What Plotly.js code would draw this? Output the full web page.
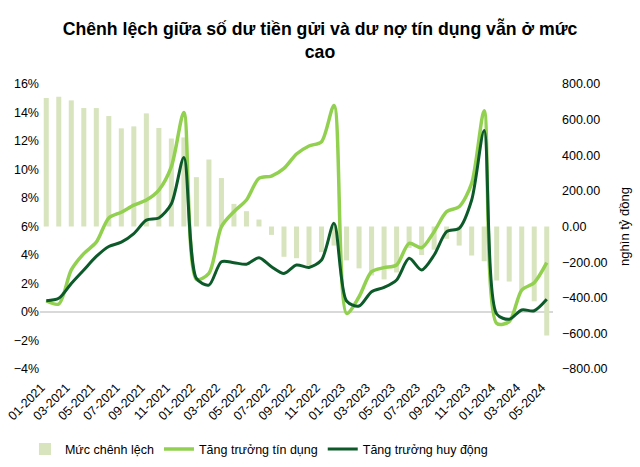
<!DOCTYPE html>
<html>
<head>
<meta charset="utf-8">
<script src="https://cdn.plot.ly/plotly-3.0.1.min.js"></script>
<style>
  html, body { margin: 0; padding: 0; background: #fff; }
  #graphDiv { width: 640px; height: 467px; }
</style>
</head>
<body>
<div id="graphDiv"></div>
<script>
  // tháng 01-2021 .. 05-2024
  var months = [
    '01-2021','02-2021','03-2021','04-2021','05-2021','06-2021','07-2021','08-2021','09-2021','10-2021','11-2021','12-2021',
    '01-2022','02-2022','03-2022','04-2022','05-2022','06-2022','07-2022','08-2022','09-2022','10-2022','11-2022','12-2022',
    '01-2023','02-2023','03-2023','04-2023','05-2023','06-2023','07-2023','08-2023','09-2023','10-2023','11-2023','12-2023',
    '01-2024','02-2024','03-2024','04-2024','05-2024'
  ];
  var tickMonths = months.filter(function (m, i) { return i % 2 === 0; });

  // Mức chênh lệch (nghìn tỷ đồng)
  var gap = [721, 729, 708, 665, 665, 620, 551, 562, 635, 553, 494, 500,
             277, 376, 272, 127, 86, 39, -47, -170, -178, -220, -144, -107,
             -190, -235, -275, -297, -258, -120, -160, -130, -69, -107, -163, -195,
             -303, -309, -360, -420, -612];

  // Tăng trưởng tín dụng (%)
  var credit = [0.79, 0.56, 2.95, 4.1, 4.9, 6.6, 7.0, 7.5, 7.86, 8.56, 10.2, 14.0,
                2.29, 2.71, 5.99, 7.04, 7.86, 9.38, 9.54, 10.08, 11.09, 11.65, 11.95, 14.5,
                -0.1, 1.07, 2.83, 3.11, 3.3, 4.82, 4.51, 5.64, 7.04, 7.39, 9.03, 14.13,
                -0.8, -0.68, 1.54, 2.06, 3.46];

  // Tăng trưởng huy động (%)
  var deposit = [0.79, 0.96, 2.0, 2.95, 3.9, 4.6, 4.9, 5.5, 6.45, 6.6, 7.6, 10.85,
                 2.36, 1.89, 3.53, 3.46, 3.35, 3.81, 3.18, 2.71, 3.3, 3.13, 3.65, 6.22,
                 0.77, 0.42, 1.42, 1.73, 2.25, 3.77, 2.95, 4.0, 5.64, 5.87, 7.86, 12.73,
                 -0.14, -0.51, 0.14, 0.09, 0.89];

  var font = 'Liberation Sans, Arial, sans-serif';

  // cột chênh lệch - trục phải
  var gapBars = {
    x: months,
    y: gap,
    type: 'bar',
    name: 'Mức chênh lệch',
    yaxis: 'y',
    marker: { color: '#d7e4bd' },
    hoverinfo: 'x+y'
  };
  // tín dụng - trục trái
  var creditLine = {
    x: months,
    y: credit,
    type: 'scatter',
    mode: 'lines',
    name: 'Tăng trưởng tín dụng',
    yaxis: 'y2',
    line: { color: '#92d050', width: 3.5, shape: 'spline', smoothing: 0.8 }
  };
  // huy động - trục trái
  var depositLine = {
    x: months,
    y: deposit,
    type: 'scatter',
    mode: 'lines',
    name: 'Tăng trưởng huy động',
    yaxis: 'y2',
    line: { color: '#0c5a29', width: 3, shape: 'spline', smoothing: 0.8 }
  };

  var data = [gapBars, creditLine, depositLine];

  var layout = {
    width: 640,
    height: 467,
    paper_bgcolor: '#fff',
    plot_bgcolor: 'rgba(0,0,0,0)',
    font: { family: font, size: 12.5, color: '#000' },
    margin: { l: 40, r: 87, t: 84, b: 98 },
    bargap: 0.6,
    showlegend: true,
    title: {
      text: '<b>Chênh lệch giữa số dư tiền gửi và dư nợ tín dụng vẫn ở mức<br>cao</b>',
      font: { family: font, size: 17.7, color: '#000' },
      x: 0.5, xanchor: 'center',
      y: 0.925, yanchor: 'top', yref: 'container'
    },
    xaxis: {
      type: 'category',
      automargin: false,
      range: [-0.5, 40.5],
      tickvals: tickMonths,
      ticktext: tickMonths,
      tickangle: -45,
      showgrid: false,
      showline: false,
      ticks: '',
      ticklabelstandoff: 8,
      ticklabelshift: -5,
      tickfont: { family: font, size: 12.5 }
    },
    yaxis: {
      side: 'right',
      automargin: false,
      range: [-800, 800],
      dtick: 200,
      tickformat: '.2f',
      showgrid: false,
      zeroline: false,
      showline: false,
      ticks: '',
      ticklabelstandoff: 8,
      tickfont: { family: font, size: 12.5 },
      title: { text: 'nghìn tỷ đồng', font: { family: font, size: 13 }, standoff: 13 }
    },
    yaxis2: {
      overlaying: 'y',
      side: 'left',
      automargin: false,
      range: [-4, 16],
      dtick: 2,
      ticksuffix: '%',
      showgrid: false,
      zeroline: true,
      zerolinecolor: '#d9d9d9',
      zerolinewidth: 2,
      showline: false,
      ticks: '',
      tickfont: { family: font, size: 12.5 }
    },
    legend: {
      orientation: 'h',
      x: 0.039, xanchor: 'left', xref: 'container',
      y: 0.038, yanchor: 'middle', yref: 'container',
      font: { family: font, size: 12.5 },
      traceorder: 'normal',
      itemwidth: 30
    }
  };

  Plotly.newPlot(graphDiv, data, layout, { displayModeBar: false });
</script>
</body>
</html>
